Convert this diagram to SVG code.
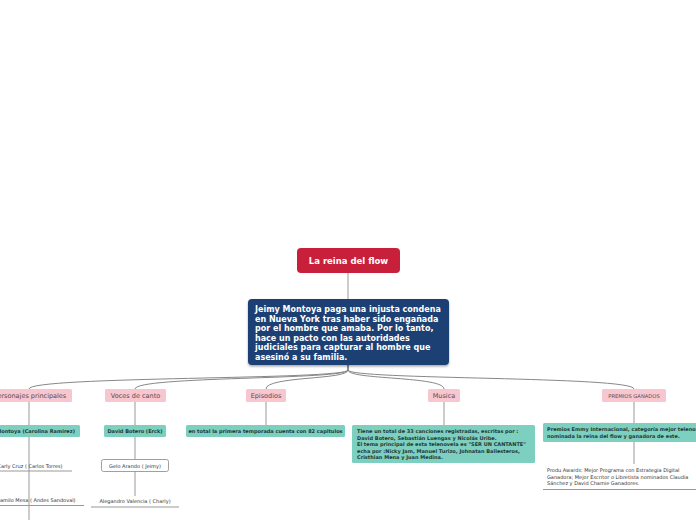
<svg xmlns="http://www.w3.org/2000/svg" width="696" height="520" viewBox="0 0 696 520">
<style>
text{font-family:"DejaVu Sans","Liberation Sans",sans-serif}
.root{fill:#c8203a}
.main{fill:#1a3f73}
.wt{fill:#ffffff;font-weight:bold}
.pink{fill:#f7c6cf}
.pt{fill:#5a4a50;font-size:6.5px}
.teal{fill:#7dcfc0}
.tt{fill:#1e3a36;font-size:5px;font-weight:bold}
.ut{fill:#333;font-size:5px}
.ul{stroke:#999;stroke-width:1}
.ln{fill:none;stroke:#999;stroke-width:1}
.cn{fill:none;stroke:#888;stroke-width:1}
.box{fill:#fff;stroke:#888;stroke-width:0.8}
</style>
<defs>
<filter id="sh" x="-10%" y="-10%" width="120%" height="130%">
<feDropShadow dx="0" dy="1.5" stdDeviation="1.2" flood-color="#000" flood-opacity="0.35"/>
</filter>
</defs>
<g id="connectors">
<line class="ln" x1="348" y1="273" x2="348" y2="299"/>
<path class="cn" d="M348,365 L348,370 C348,380 29,376 29,389"/>
<path class="cn" d="M348,365 L348,370 C348,380 135,376 135,389"/>
<path class="cn" d="M348,365 L348,370 C348,380 266,376 266,389"/>
<path class="cn" d="M348,365 L348,370 C348,380 444,376 444,389"/>
<path class="cn" d="M348,365 L348,370 C348,380 634,376 634,389"/>
<line class="ln" x1="29" y1="402" x2="29" y2="520"/>
<line class="ln" x1="135" y1="402" x2="135" y2="459"/>
<line class="ln" x1="135" y1="471" x2="135" y2="496"/>
<line class="ln" x1="266" y1="402" x2="266" y2="425"/>
<line class="ln" x1="444" y1="402" x2="444" y2="425"/>
<line class="ln" x1="634" y1="402" x2="634" y2="423"/>
<line class="ln" x1="634" y1="442" x2="634" y2="464"/>
</g>
<g id="root">
<rect class="root" x="297" y="248" width="103" height="25" rx="4"/>
<text class="wt" x="348.5" y="264" font-size="8.5" text-anchor="middle">La reina del flow</text>
</g>
<g id="main">
<rect class="main" x="248" y="299" width="201" height="66" rx="4" filter="url(#sh)"/>
<text class="wt" font-size="8">
<tspan x="255" y="312">Jeimy Montoya paga una injusta condena</tspan>
<tspan x="255" y="321.5">en Nueva York tras haber sido engañada</tspan>
<tspan x="255" y="331">por el hombre que amaba. Por lo tanto,</tspan>
<tspan x="255" y="340.5">hace un pacto con las autoridades</tspan>
<tspan x="255" y="350">judiciales para capturar al hombre que</tspan>
<tspan x="255" y="359.5">asesinó a su familia.</tspan>
</text>
</g>
<g id="personajes">
<rect class="pink" x="-12" y="389" width="84" height="13" rx="1.5"/>
<text class="pt" x="30" y="398" text-anchor="middle">Personajes principales</text>
</g>
<g id="jeimy">
<rect class="teal" x="-30" y="425" width="110" height="12" rx="1.5"/>
<text class="tt" x="27" y="433" text-anchor="middle">Jeimy Montoya (Carolina Ramirez)</text>
</g>
<g id="carly">
<text class="ut" x="30" y="468" text-anchor="middle">Carly Cruz ( Carlos Torres)</text>
<line class="ul" x1="-20" y1="471" x2="72" y2="471"/>
</g>
<g id="camilo">
<text class="ut" x="36" y="502" text-anchor="middle">Camilo Mesa ( Andes Sandoval)</text>
<line class="ul" x1="-20" y1="505.5" x2="84" y2="505.5"/>
</g>
<g id="voces">
<rect class="pink" x="105" y="389" width="61" height="13" rx="1.5"/>
<text class="pt" x="135.5" y="398" text-anchor="middle">Voces de canto</text>
</g>
<g id="david">
<rect class="teal" x="104" y="425" width="62" height="12" rx="1.5"/>
<text class="tt" x="135" y="433" text-anchor="middle">David Botero (Erck)</text>
</g>
<g id="gelo">
<rect class="box" x="101.5" y="459.5" width="67" height="12" rx="2"/>
<text class="ut" x="135" y="467.5" text-anchor="middle">Gelo Arando ( Jeimy)</text>
</g>
<g id="alegandro">
<text class="ut" x="135" y="503" text-anchor="middle">Alegandro Valencia ( Charly)</text>
<line class="ul" x1="91" y1="507" x2="179" y2="507"/>
</g>
<g id="episodios">
<rect class="pink" x="246" y="389" width="40" height="13" rx="1.5"/>
<text class="pt" x="266" y="398" text-anchor="middle">Episodios</text>
</g>
<g id="capitulos">
<rect class="teal" x="186" y="425" width="159" height="12" rx="1.5"/>
<text class="tt" x="265.5" y="433" text-anchor="middle">en total la primera temporada cuenta con 82 capitulos</text>
</g>
<g id="musica">
<rect class="pink" x="428" y="389" width="32" height="13" rx="1.5"/>
<text class="pt" x="444" y="398" text-anchor="middle">Musica</text>
</g>
<g id="canciones">
<rect class="teal" x="352" y="425" width="183" height="38" rx="1.5"/>
<text class="tt">
<tspan x="357" y="433">Tiene un total de 33 canciones registradas, escritas por :</tspan>
<tspan x="357" y="439.5">David Botero, Sebastián Luengas y Nicolás Uribe.</tspan>
<tspan x="357" y="446">El tema principal de esta telenovela es "SER UN CANTANTE"</tspan>
<tspan x="357" y="452.5">echa por :Nicky Jam, Manuel Turizo, Johnatan Ballesteros,</tspan>
<tspan x="357" y="459">Cristhian Mena y Juan Medina.</tspan>
</text>
</g>
<g id="premios">
<rect class="pink" x="602" y="389" width="64" height="13" rx="1.5"/>
<text class="pt" x="634" y="398" text-anchor="middle" style="font-size:5.2px">PREMIOS GANADOS</text>
</g>
<g id="emmy">
<rect class="teal" x="543" y="423" width="160" height="19" rx="1.5"/>
<text class="tt">
<tspan x="547" y="431">Premios Emmy Internacional, categoría mejor telenovela</tspan>
<tspan x="547" y="437.5">nominada la reina del flow y ganadora de este.</tspan>
</text>
</g>
<g id="produ">
<text class="ut">
<tspan x="547" y="472">Produ Awards: Mejor Programa con Estrategia Digital</tspan>
<tspan x="547" y="478.5">Ganadora;  Mejor Escritor o Libretista nominados Claudia</tspan>
<tspan x="547" y="485">Sánchez y David Chamie Ganadores.</tspan>
</text>
<line class="ul" x1="543" y1="489.5" x2="700" y2="489.5"/>
</g>
</svg>
